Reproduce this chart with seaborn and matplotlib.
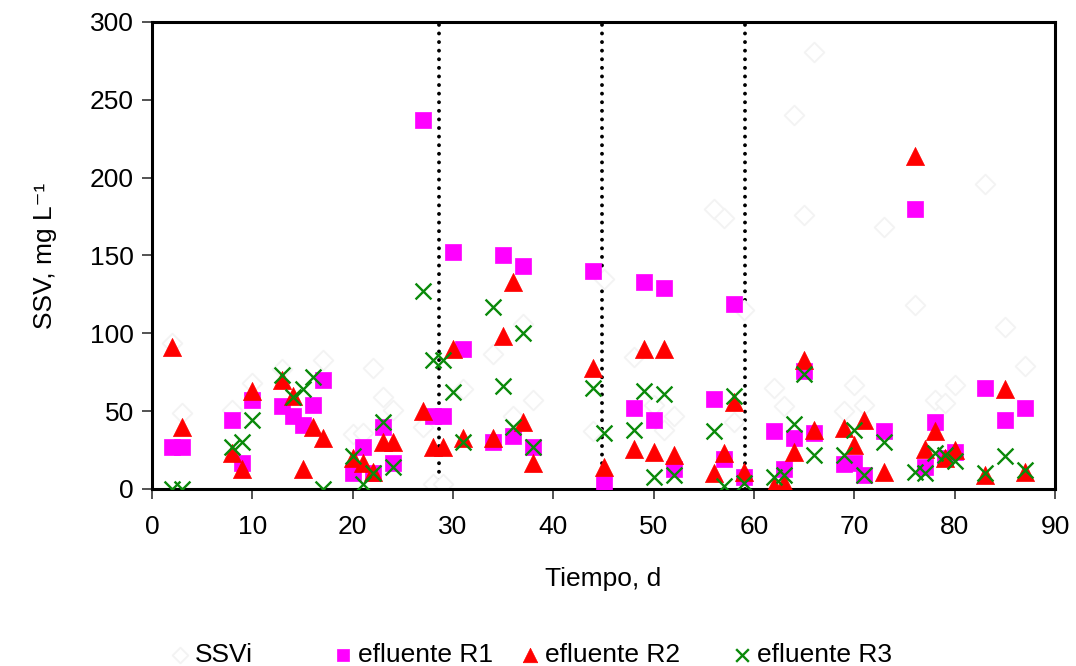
import matplotlib
matplotlib.use("Agg")
import matplotlib.pyplot as plt
import seaborn as sns
import pandas as pd

# ---- data ----
ssvi_x = [2, 3, 8, 10, 13, 17, 20, 21, 22, 23, 24, 27, 28, 29, 31, 34, 36, 37, 38, 44, 45, 48, 50, 51, 52,
          56, 57, 58, 59, 62, 63, 64, 65, 66, 69, 70, 71, 73, 76, 78, 79, 80, 83, 85, 87]
ssvi_y = [94, 49, 51, 68, 77, 83, 35, 36, 78, 59, 51, 40, 3, 3, 64, 87, 47, 106, 57, 37, 135, 85, 54, 38, 47,
          180, 174, 43, 115, 65, 53, 240, 176, 281, 50, 67, 54, 168, 118, 57, 55, 67, 196, 104, 79]

r1_x = [2, 3, 8, 9, 10, 13, 14, 15, 16, 17, 20, 21, 22, 23, 24, 27, 28, 29, 30, 31, 34, 35, 36, 37, 38,
        44, 45, 48, 49, 50, 51, 52, 56, 57, 58, 59, 62, 63, 64, 65, 66, 69, 70, 71, 73, 76, 77, 78, 79, 80,
        83, 85, 87]
r1_y = [27, 27, 44, 17, 57, 53, 47, 41, 54, 70, 10, 27, 10, 40, 17, 237, 47, 47, 152, 90, 30, 150, 34, 143, 27,
        140, 3, 52, 133, 44, 129, 13, 58, 19, 119, 8, 37, 13, 33, 76, 36, 16, 17, 9, 37, 180, 14, 43, 20, 24,
        65, 44, 52]

r2_x = [2, 3, 8, 9, 10, 13, 14, 15, 16, 17, 20, 21, 22, 23, 24, 27, 28, 29, 30, 31, 34, 35, 36, 37, 38,
        44, 45, 48, 49, 50, 51, 52, 56, 57, 58, 59, 62, 63, 64, 65, 66, 69, 70, 71, 73, 76, 77, 78, 79, 80,
        83, 85, 87]
r2_y = [91, 40, 23, 13, 63, 70, 60, 13, 40, 33, 20, 17, 11, 30, 30, 50, 27, 27, 90, 33, 33, 98, 133, 43, 17,
        78, 14, 26, 90, 24, 90, 22, 10, 23, 56, 11, 2, 4, 24, 83, 38, 39, 28, 44, 11, 214, 26, 37, 20, 25,
        9, 64, 11]

r3_x = [2, 3, 8, 9, 10, 13, 14, 15, 16, 17, 20, 21, 22, 23, 24, 27, 28, 29, 30, 31, 34, 35, 36, 37, 38,
        44, 45, 48, 49, 50, 51, 52, 56, 57, 58, 59, 62, 63, 64, 65, 66, 69, 70, 71, 73, 76, 77, 78, 79, 80,
        83, 85, 87]
r3_y = [0, 0, 27, 30, 44, 73, 59, 64, 72, 0, 21, 3, 10, 43, 14, 127, 83, 83, 62, 30, 117, 66, 40, 100, 27,
        65, 36, 38, 63, 8, 61, 9, 37, 2, 60, 4, 8, 9, 42, 74, 22, 22, 38, 9, 30, 11, 10, 23, 22, 18,
        10, 21, 12]

phase_lines = [28.6, 44.8, 59.1]
x_ticks = [0, 10, 20, 30, 40, 50, 60, 70, 80, 90]
y_ticks = [0, 50, 100, 150, 200, 250, 300]
labels = ["SSVi", "efluente R1", "efluente R2", "efluente R3"]

# ---- style ----
sns.set_theme(style="ticks")
plt.rcParams["font.family"] = ["Liberation Sans", "DejaVu Sans"]
plt.rcParams["text.color"] = "black"
plt.rcParams["axes.labelcolor"] = "black"
plt.rcParams["xtick.color"] = "black"
plt.rcParams["ytick.color"] = "black"

fig = plt.figure(figsize=(10.76, 6.66), dpi=100)
ax = fig.add_axes([0.1413, 0.2658, 0.8392, 0.7012])

df0 = pd.DataFrame({"x": ssvi_x, "y": ssvi_y})
df1 = pd.DataFrame({"x": r1_x, "y": r1_y})
df2 = pd.DataFrame({"x": r2_x, "y": r2_y})
df3 = pd.DataFrame({"x": r3_x, "y": r3_y})

sns.scatterplot(data=df0, x="x", y="y", ax=ax, marker="D", s=100, facecolor="white",
                edgecolor="#f3f3f3", linewidth=1.3, label=labels[0], zorder=2)
sns.scatterplot(data=df1, x="x", y="y", ax=ax, marker="s", s=130, color="#FF00FF",
                edgecolor="#FF00FF", linewidth=0.5, label=labels[1], zorder=3)
sns.scatterplot(data=df2, x="x", y="y", ax=ax, marker="^", s=170, color="#FF0000",
                edgecolor="#FF0000", linewidth=0.5, label=labels[2], zorder=4)
sns.scatterplot(data=df3, x="x", y="y", ax=ax, marker="x", s=130, color="#0A8A0A",
                linewidth=1.7, label=labels[3], zorder=5)

for xv in phase_lines:
    ax.axvline(xv, color="black", lw=2.8, linestyle=(0, (0.01, 2.2)),
               dash_capstyle="round", zorder=1)

ax.set_xlim(0, 90)
ax.set_ylim(0, 300)
ax.set_xticks(x_ticks)
ax.set_yticks(y_ticks)
ax.tick_params(axis="both", labelsize=19, length=7, width=1.3, color="#444444",
               direction="out")
ax.tick_params(axis="x", pad=12)
ax.tick_params(axis="y", pad=6)
for sp in ax.spines.values():
    sp.set_visible(True)
    sp.set_color("black")
    sp.set_linewidth(2.2)

ax.set_xlabel("Tiempo, d", fontsize=19, labelpad=20)
ax.set_ylabel("SSV, mg L\u207b\u00b9", fontsize=19, labelpad=24)

ax.get_legend().remove()
handles, lbls = ax.get_legend_handles_labels()
marker_px = [180, 343, 530, 742]
W = 1076.0
for h, l, mx in zip(handles, lbls, marker_px):
    fig.legend([h], [l], loc="center left", bbox_to_anchor=((mx - 13) / W, 0.017),
               frameon=False, fontsize=19, handletextpad=0.05, borderpad=0,
               borderaxespad=0, handlelength=1.0, markerscale=0.8)

fig.savefig("out.png", dpi=100)
